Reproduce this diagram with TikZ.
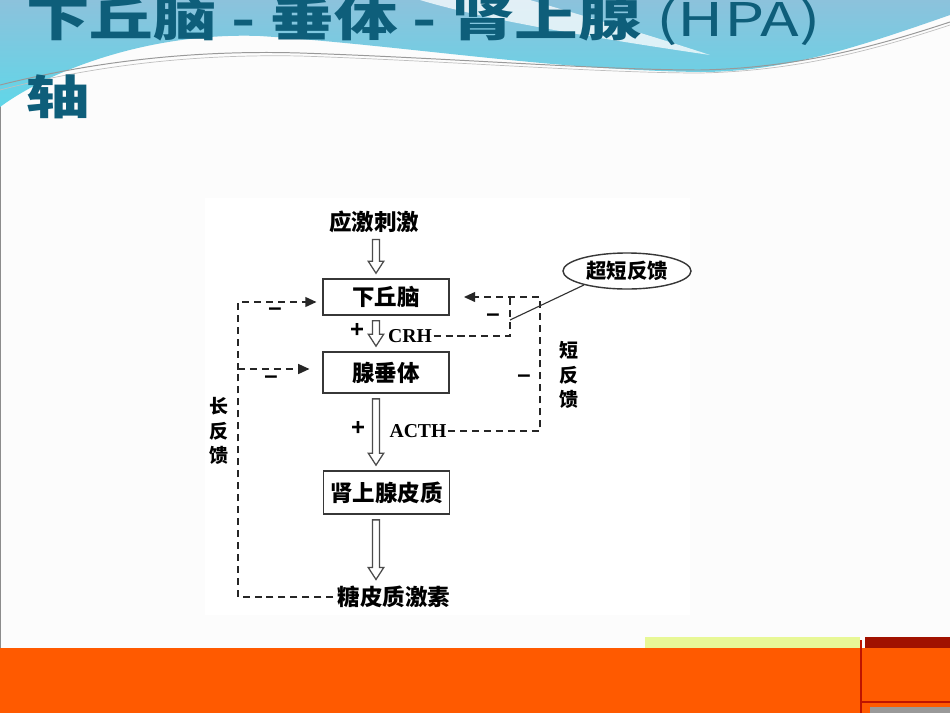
\documentclass[tikz,border=0pt]{standalone}
\usepackage{fontspec}
\setmainfont{Liberation Serif}
\newfontfamily\cjk{Noto Sans CJK SC}
\newfontfamily\signfont{Liberation Sans}
\usetikzlibrary{calc,arrows.meta,shapes.geometric}

\definecolor{titleteal}{RGB}{14,94,122}
\definecolor{waveblue}{RGB}{140,194,220}
\definecolor{wavecyan}{RGB}{96,214,232}
\definecolor{slideorange}{RGB}{255,90,0}
\definecolor{darkred}{RGB}{190,20,0}
\definecolor{boxgray}{RGB}{55,55,55}
\definecolor{noiseyellow}{RGB}{232,248,150}

\begin{document}
\begin{tikzpicture}[x=0.025cm,y=-0.025cm,
        box/.style={draw=boxgray,line width=1.2pt,minimum width=3.15cm,inner sep=0pt,
            font=\cjk\bfseries\fontsize{16}{18}\selectfont},
        lbl/.style={inner sep=1pt,font=\cjk\bfseries\fontsize{16}{18}\selectfont},
        vlbl/.style={inner sep=0pt,align=center,font=\cjk\bfseries\fontsize{13.5}{17.5}\selectfont},
        hormone/.style={inner sep=1pt,font=\bfseries\fontsize{14}{16}\selectfont},
        sign/.style={inner sep=0pt,font=\signfont\bfseries\fontsize{17}{18}\selectfont},
        heading/.style={anchor=base west,inner sep=0pt,xscale=1.37,text=titleteal,
            font=\cjk\fontsize{33}{36}\selectfont},
        fb/.style={draw=black!85,line width=1.2pt,dash pattern=on 5pt off 3.5pt},
        fbtip/.style={-{Triangle[length=8pt,width=7pt]}},
        hollow/.style={draw=black!70,line width=0.9pt,
            to path={let \p1=(\tikztostart), \p2=(\tikztotarget) in
                (\x1-2.5pt,\y1-3.5pt) -- (\x1-2.5pt,\y2+12pt) -- (\x1-5.5pt,\y2+12pt)
                -- (\x1,\y2+3.5pt) -- (\x1+5.5pt,\y2+12pt) -- (\x1+2.5pt,\y2+12pt)
                -- (\x1+2.5pt,\y1-3.5pt) -- cycle}}]

    \useasboundingbox (0,0) rectangle (950,713);
    \fill[black!1] (0,0) rectangle (950,713);
    \draw[black!45,line width=1pt] (0.5,0) -- (0.5,648);

    \shade[top color=waveblue,bottom color=wavecyan]
        (0,0) -- (950,0) -- (950,15)
        .. controls (850,50) and (780,72) .. (700,72)
        .. controls (550,70) and (400,45) .. (260,36)
        .. controls (150,32) and (50,70) .. (0,107) -- cycle;
    \fill[white,opacity=0.75]
        (420,0) .. controls (480,18) and (580,36) .. (710,55)
        .. controls (640,32) and (570,12) .. (530,0) -- cycle;
    \draw[black!40,line width=0.7pt]
        (0,85) .. controls (100,60) and (200,50) .. (300,53)
        .. controls (450,58) and (600,70) .. (700,70)
        .. controls (800,68) and (880,45) .. (950,22);
    \draw[black!25,line width=0.5pt]
        (0,90) .. controls (100,64) and (200,54) .. (300,56)
        .. controls (450,61) and (600,73) .. (700,73)
        .. controls (800,71) and (880,48) .. (950,25);

    \node[heading] (title) at (26,36) {\bfseries 下丘脑 - 垂体 - 肾上腺 {\mdseries (HPA)}};
    \node[heading] (titleaxis) at (26,114) {\bfseries 轴};

    \fill[white] (205,198) rectangle (690,615);

    \coordinate (mid) at (376,0);
    \node[lbl] (stress) at (374,222) {应激刺激};
    \node[box,minimum height=0.9cm] (hypo) at (386,297) {下丘脑};
    \node[box,minimum height=1.03cm] (pit) at (386,372.5) {腺垂体};
    \node[box,minimum height=1.08cm] (adr) at (386.5,492.5) {肾上腺皮质};
    \node[lbl] (gluco) at (394,597) {糖皮质激素};

    \draw[hollow] (stress.south -| mid) to (hypo.north -| mid);
    \draw[hollow] (hypo.south -| mid) to (pit.north -| mid);
    \draw[hollow] (pit.south -| mid) to (adr.north -| mid);
    \draw[hollow] (adr.south -| mid) to (gluco.north -| mid);

    \node[sign] (crhplus) at (357,330) {+};
    \node[hormone] (crh) at (410,336) {CRH};
    \node[sign] (acthplus) at (358,428) {+};
    \node[hormone] (acth) at (418,431) {ACTH};

    \node[sign] (longminusa) at (275,312) {–};
    \node[sign] (longminusb) at (271,380) {–};
    \node[sign] (ultraminus) at (493,318) {–};
    \node[sign] (shortminus) at (524,379) {–};

    \node[vlbl] (longfb) at (219,431) {长\\反\\馈};
    \node[vlbl] (shortfb) at (569,375) {短\\反\\馈};
    \node[ellipse,draw=boxgray,line width=1pt,minimum width=3.2cm,minimum height=0.9cm,
        inner sep=0pt,font=\cjk\bfseries\fontsize{14.5}{16}\selectfont] (ultra) at (627,271) {超短反馈};

    \coordinate (lt) at (238,302);
    \coordinate (lm) at (238,369);
    \coordinate (st) at (540,297);
    \coordinate (ut) at (510,297);
    \coordinate (um) at (510,320);

    \draw[fb,fbtip,shorten <=2pt,shorten >=4pt]
        (gluco.west) -| (lt) -- (lt -| hypo.west);
    \draw[fb,fbtip,shorten >=9pt] (lm) -- (lm -| pit.west);
    \draw[fb,fbtip,shorten >=10pt]
        (acth.east) -| (st) -- (st -| hypo.east);
    \draw[fb] (crh.east) -| (ut);
    \draw[black!80,line width=0.8pt] (um) -- (ultra.198);

    \fill[slideorange] (0,648) rectangle (950,713);
    \fill[noiseyellow] (645,637) rectangle (860,648);
    \fill[darkred!85!black] (865,637) rectangle (950,648);
    \draw[darkred,line width=1.5pt]
        (861,640) -- (861,713)
        (861,702) -- (950,702);
    \fill[black!40] (870,707) rectangle (950,713);
\end{tikzpicture}
\end{document}
